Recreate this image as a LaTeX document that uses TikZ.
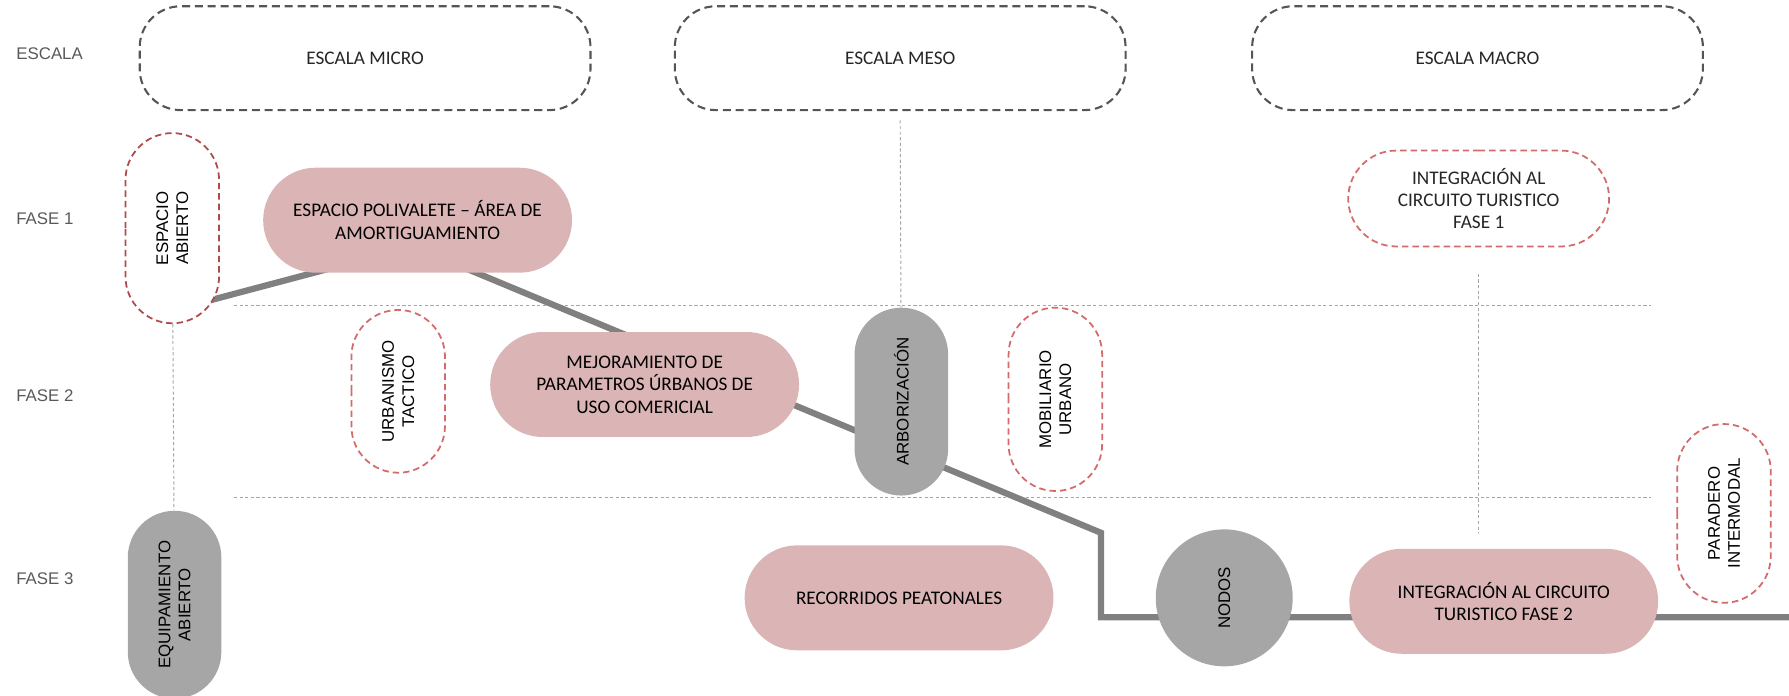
\documentclass[tikz,border=0pt]{standalone}
\usepackage{fontspec}
\setmainfont{Carlito}
\newfontfamily\arialfont{Liberation Sans}
\usetikzlibrary{shapes.misc,backgrounds}
\definecolor{rosa}{HTML}{DBB5B5}
\definecolor{gris}{HTML}{A6A6A6}
\definecolor{linea}{HTML}{808080}
\definecolor{rojo}{HTML}{D46A6A}
\definecolor{rojoosc}{HTML}{B04A4C}
\definecolor{guion}{HTML}{555555}
\definecolor{etiq}{HTML}{595959}
\definecolor{punteo}{HTML}{A6A6A6}
\begin{document}
\begin{tikzpicture}[x=0.025cm, y=-0.025cm, line width=0.5pt,
  escala/.style={draw=guion, line width=1.3pt, dash pattern=on 5pt off 3pt, rounded corners=0.9cm, minimum width=9.875cm, minimum height=2.275cm, font=\fontsize{12}{14}\selectfont, text=black!85},
  fase/.style={anchor=west, font=\arialfont\fontsize{10.5}{12}\selectfont, text=etiq, inner sep=0pt},
  pill/.style={rounded rectangle, fill=rosa, minimum width=7cm, minimum height=2.3cm, align=center, font=\fontsize{12}{14}\selectfont, text=black},
  vpill/.style={rounded rectangle, rotate=90, align=center, font=\arialfont\fontsize{10.5}{12.5}\selectfont, text=black, minimum height=2.05cm},
  lleno/.style={fill=gris},
  hueco/.style={draw=rojo, fill=white, line width=1.1pt, dash pattern=on 4pt off 2.5pt},
  punto/.style={draw=punteo, line width=0.6pt, dash pattern=on 2pt off 1.5pt},
  ruta/.style={draw=linea, line width=3.9pt, line join=miter}]
  \useasboundingbox (0,0) rectangle (1568,610);
  \node[fase] (lescala) at (14,47) {ESCALA};
  \node[fase] (lfase1) at (14,192) {FASE 1};
  \node[fase] (lfase2) at (14,347) {FASE 2};
  \node[fase] (lfase3) at (14,507) {FASE 3};
  \node[escala] (micro) at (320,51) {ESCALA MICRO};
  \node[escala] (meso) at (789,51) {ESCALA MESO};
  \node[escala] (macro) at (1295,51) {ESCALA MACRO};
  \node[vpill, hueco, draw=rojoosc, minimum width=4.4cm] (abierto) at (151,200) {ESPACIO\\ABIERTO};
  \node[pill] (poli) at (366,193) {ESPACIO POLIVALETE – ÁREA DE\\AMORTIGUAMIENTO};
  \node[rounded rectangle, hueco, minimum width=5.95cm, minimum height=2.1cm, align=center, font=\fontsize{12}{13.5}\selectfont, text=black!85] (tur1) at (1296,174) {INTEGRACIÓN AL\\CIRCUITO TURISTICO\\FASE 1};
  \node[vpill, hueco, minimum width=3.8cm] (urb) at (349,343) {URBANISMO\\TACTICO};
  \node[pill] (mej) at (565,337) {MEJORAMIENTO DE\\PARAMETROS ÚRBANOS DE\\USO COMERICIAL};
  \node[vpill, lleno, minimum width=4.35cm] (arb) at (790,352) {ARBORIZACIÓN};
  \node[vpill, hueco, minimum width=4.25cm] (mob) at (925,350) {MOBILIARIO\\URBANO};
  \node[vpill, hueco, minimum width=4.15cm] (par) at (1511,450) {PARADERO\\INTERMODAL};
  \node[vpill, lleno, minimum width=4.35cm] (equ) at (153,530) {EQUIPAMIENTO\\ABIERTO};
  \node[pill] (rec) at (788,524) {RECORRIDOS PEATONALES};
  \node[circle, lleno, minimum size=3cm, rotate=90, font=\arialfont\fontsize{10.5}{12}\selectfont] (nodos) at (1073,524) {NODOS};
  \node[pill] (tur2) at (1318,527) {INTEGRACIÓN AL CIRCUITO\\TURISTICO FASE 2};
  \coordinate (c0) at (151,272);
  \coordinate (c1) at (362,216);
  \coordinate (c2) at (965,467);
  \coordinate (c3) at (965,541);
  \coordinate (c4) at (1568,541);
  \begin{pgfonlayer}{background}
    \draw[punto] (205,268) -- (1447,268);
    \draw[punto] (205,436) -- (1447,436);
    \draw[punto] (abierto) -- (equ);
    \draw[punto] ([yshift=-0.2cm]meso.south) -- (arb);
    \draw[punto] ([yshift=-0.58cm]tur1.south) -- ++(0,227);
    \draw[ruta] (c0) -- (c1) -- (c2) -- (c3) -- (c4);
  \end{pgfonlayer}
\end{tikzpicture}
\end{document}
